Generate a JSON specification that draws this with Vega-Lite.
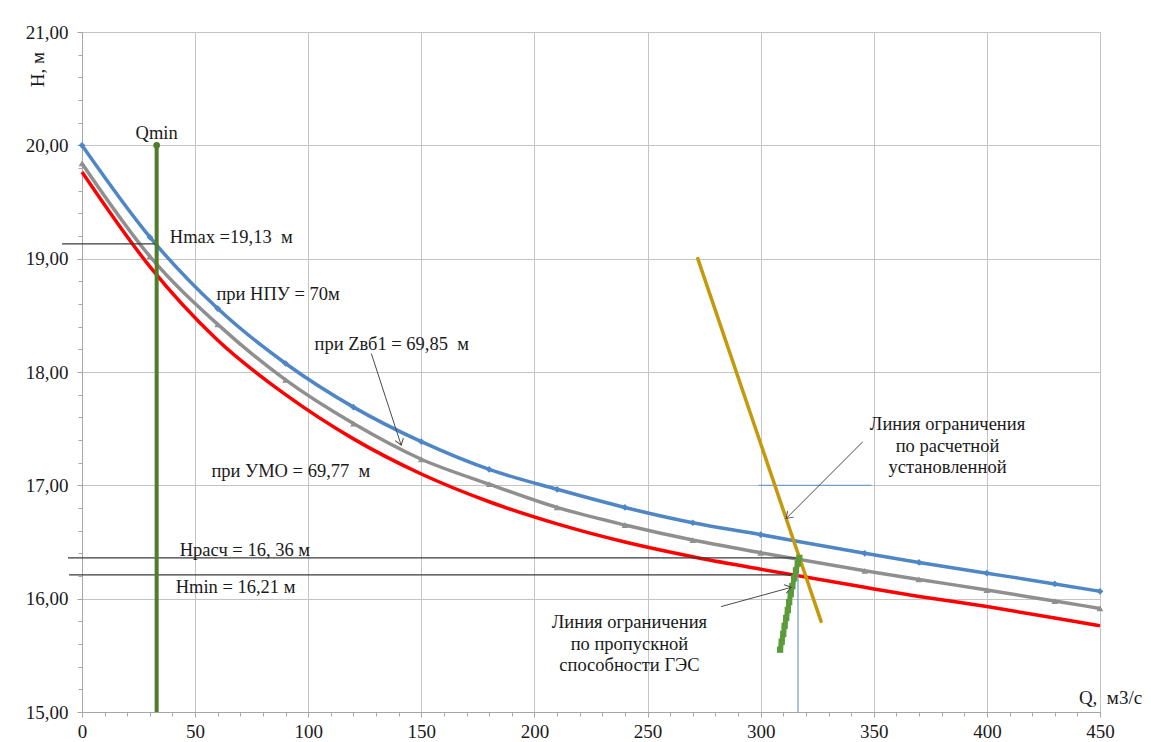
{
  "$schema": "https://vega.github.io/schema/vega-lite/v6.json",
  "width": 1018,
  "height": 680,
  "autosize": {"type": "none"},
  "padding": {"left": 82, "top": 32, "right": 51, "bottom": 30},
  "background": "white",
  "config": {
    "view": {"stroke": null},
    "font": "'Liberation Serif', 'Times New Roman', 'DejaVu Serif', serif",
    "text": {"font": "'Liberation Serif', 'Times New Roman', 'DejaVu Serif', serif", "fontSize": 18.5, "color": "#1a1a1a"}
  },
  "datasets": {
    "curves": [
      {"s": "НПУ", "Q": 0, "H": 20.0}, {"s": "НПУ", "Q": 30, "H": 19.19}, {"s": "НПУ", "Q": 60, "H": 18.56},
      {"s": "НПУ", "Q": 90, "H": 18.075}, {"s": "НПУ", "Q": 120, "H": 17.69}, {"s": "НПУ", "Q": 150, "H": 17.385},
      {"s": "НПУ", "Q": 180, "H": 17.14}, {"s": "НПУ", "Q": 210, "H": 16.965}, {"s": "НПУ", "Q": 240, "H": 16.805},
      {"s": "НПУ", "Q": 270, "H": 16.67}, {"s": "НПУ", "Q": 300, "H": 16.565}, {"s": "НПУ", "Q": 346, "H": 16.4},
      {"s": "НПУ", "Q": 370, "H": 16.32}, {"s": "НПУ", "Q": 400, "H": 16.225}, {"s": "НПУ", "Q": 430, "H": 16.13},
      {"s": "НПУ", "Q": 450, "H": 16.065},
      {"s": "Zвб1", "Q": 0, "H": 19.84}, {"s": "Zвб1", "Q": 30, "H": 19.02}, {"s": "Zвб1", "Q": 60, "H": 18.42},
      {"s": "Zвб1", "Q": 90, "H": 17.93}, {"s": "Zвб1", "Q": 120, "H": 17.545}, {"s": "Zвб1", "Q": 150, "H": 17.23},
      {"s": "Zвб1", "Q": 180, "H": 17.01}, {"s": "Zвб1", "Q": 210, "H": 16.805}, {"s": "Zвб1", "Q": 240, "H": 16.65},
      {"s": "Zвб1", "Q": 270, "H": 16.517}, {"s": "Zвб1", "Q": 300, "H": 16.405}, {"s": "Zвб1", "Q": 346, "H": 16.246},
      {"s": "Zвб1", "Q": 370, "H": 16.17}, {"s": "Zвб1", "Q": 400, "H": 16.076}, {"s": "Zвб1", "Q": 430, "H": 15.979},
      {"s": "Zвб1", "Q": 450, "H": 15.914},
      {"s": "УМО", "Q": 0, "H": 19.765}, {"s": "УМО", "Q": 30, "H": 18.93}, {"s": "УМО", "Q": 60, "H": 18.28},
      {"s": "УМО", "Q": 90, "H": 17.8}, {"s": "УМО", "Q": 120, "H": 17.41}, {"s": "УМО", "Q": 150, "H": 17.1},
      {"s": "УМО", "Q": 180, "H": 16.855}, {"s": "УМО", "Q": 210, "H": 16.66}, {"s": "УМО", "Q": 240, "H": 16.5},
      {"s": "УМО", "Q": 270, "H": 16.37}, {"s": "УМО", "Q": 300, "H": 16.26}, {"s": "УМО", "Q": 346, "H": 16.1},
      {"s": "УМО", "Q": 370, "H": 16.02}, {"s": "УМО", "Q": 400, "H": 15.93}, {"s": "УМО", "Q": 430, "H": 15.83},
      {"s": "УМО", "Q": 450, "H": 15.76}
    ],
    "refs": [
      {"id": "hmax", "Q": -8.8, "Q2": 33, "H": 19.13, "H2": 19.13},
      {"id": "hrasch", "Q": -6.2, "Q2": 317, "H": 16.36, "H2": 16.36},
      {"id": "hmin", "Q": -5.7, "Q2": 316, "H": 16.21, "H2": 16.21},
      {"id": "vblue", "Q": 316.5, "Q2": 316.5, "H": 15.0, "H2": 16.36},
      {"id": "hblue", "Q": 299, "Q2": 349, "H": 17.0, "H2": 17.0}
    ],
    "qmin": [{"Q": 33, "H": 15.0, "H2": 20.0}],
    "qminTop": [{"Q": 33, "H": 20.0}],
    "gold": [
      {"Q": 272.2, "H": 19.0}, {"Q": 317.0, "H": 16.37}, {"Q": 326.7, "H": 15.8}
    ],
    "ges": [
      {"Q": 308.6, "H": 15.55}, {"Q": 309.3, "H": 15.62}, {"Q": 310.0, "H": 15.69}, {"Q": 310.6, "H": 15.76},
      {"Q": 311.3, "H": 15.83}, {"Q": 312.0, "H": 15.9}, {"Q": 312.6, "H": 15.97}, {"Q": 313.3, "H": 16.04},
      {"Q": 314.0, "H": 16.11}, {"Q": 314.8, "H": 16.18}, {"Q": 315.6, "H": 16.25}, {"Q": 316.4, "H": 16.31},
      {"Q": 317.1, "H": 16.36}
    ],
    "arrows": [
      {"id": "a1", "Q": 127.9, "H": 18.163, "Q2": 141.1, "H2": 17.354},
      {"id": "a2", "Q": 345.1, "H": 17.384, "Q2": 311.3, "H2": 16.708},
      {"id": "a3", "Q": 282.5, "H": 15.93, "Q2": 313.5, "H2": 16.1}
    ],
    "labelsLeft": [
      {"Q": 38.8, "H": 19.19, "t": "Hmax =19,13 \u00a0м"},
      {"Q": 59.4, "H": 18.69, "t": "при НПУ = 70м"},
      {"Q": 102.8, "H": 18.25, "t": "при Zвб1 = 69,85 \u00a0м"},
      {"Q": 57.2, "H": 17.13, "t": "при УМО = 69,77 \u00a0м"},
      {"Q": 43.2, "H": 16.43, "t": "Hрасч = 16, 36 м"},
      {"Q": 41.4, "H": 16.1, "t": "Hmin = 16,21 м"}
    ],
    "labelsCenter": [
      {"Q": 33, "H": 20.11, "t": "Qmin"},
      {"Q": 242, "H": 15.79, "t": "Линия ограничения\nпо пропускной\nспособности ГЭС"},
      {"Q": 382.6, "H": 17.54, "t": "Линия ограничения\nпо расчетной\nустановленной"}
    ]
  },
  "layer": [
    {
      "layer": [
        {
          "data": {"name": "curves"},
          "mark": {"type": "line", "interpolate": "monotone", "strokeWidth": 3.5},
          "encoding": {
            "x": {
              "field": "Q", "type": "quantitative",
              "scale": {"domain": [0, 450], "nice": false, "zero": false},
              "axis": {
                "orient": "bottom",
                "values": [0, 50, 100, 150, 200, 250, 300, 350, 400, 450],
                "title": "Q, \u00a0м3/с",
                "titleFont": "'Liberation Serif', 'Times New Roman', serif", "titleFontSize": 19, "titleFontWeight": "normal", "titleColor": "#1a1a1a",
                "titleX": 1028, "titleY": -15, "titleAlign": "center", "titleBaseline": "middle", "titleAnchor": null,
                "labelFont": "'Liberation Serif', 'Times New Roman', serif", "labelFontSize": 19, "labelColor": "#1a1a1a", "labelPadding": 5,
                "labelFlush": false, "labelOverlap": false,
                "tickSize": 5, "tickColor": "#a6a6a6", "domainColor": "#a6a6a6",
                "grid": true, "gridColor": "#c4c4c4", "gridWidth": 1
              }
            },
            "y": {
              "field": "H", "type": "quantitative",
              "scale": {"domain": [15, 21], "nice": false, "zero": false},
              "axis": {
                "orient": "left",
                "values": [15, 16, 17, 18, 19, 20, 21],
                "labelExpr": "replace(format(datum.value, '.2f'), '.', ',')",
                "title": "Н, м",
                "titleFont": "'Liberation Serif', 'Times New Roman', serif", "titleFontSize": 19, "titleFontWeight": "normal", "titleColor": "#1a1a1a",
                "titleAngle": 270, "titleX": -45, "titleY": 37, "titleAlign": "center", "titleBaseline": "middle", "titleAnchor": null,
                "labelFont": "'Liberation Serif', 'Times New Roman', serif", "labelFontSize": 19, "labelColor": "#1a1a1a", "labelPadding": 9,
                "labelFlush": false, "labelOverlap": false,
                "tickSize": 5, "tickColor": "#a6a6a6", "domainColor": "#a6a6a6",
                "grid": true, "gridColor": "#c4c4c4", "gridWidth": 1
              }
            },
            "color": {
              "field": "s", "type": "nominal",
              "scale": {"domain": ["УМО", "Zвб1", "НПУ"], "range": ["#ff0000", "#8f8f8f", "#4f86c6"]},
              "legend": null
            },
            "order": {"field": "Q", "type": "quantitative"}
          }
        },
        {
          "data": {"name": "curves"},
          "transform": [{"filter": "datum.s !== 'УМО'"}],
          "mark": {"type": "point", "filled": true, "size": 45, "opacity": 1},
          "encoding": {
            "x": {"field": "Q", "type": "quantitative"},
            "y": {"field": "H", "type": "quantitative"},
            "color": {"field": "s", "type": "nominal", "legend": null},
            "shape": {
              "field": "s", "type": "nominal",
              "scale": {"domain": ["Zвб1", "НПУ"], "range": ["triangle-up", "diamond"]},
              "legend": null
            }
          }
        },
        {
          "data": {"name": "refs"},
          "transform": [{"filter": "datum.id === 'hmax' || datum.id === 'hrasch' || datum.id === 'hmin'"}],
          "mark": {"type": "rule", "color": "#3a3a3a", "strokeWidth": 1.2},
          "encoding": {
            "x": {"field": "Q", "type": "quantitative"},
            "x2": {"field": "Q2"},
            "y": {"field": "H", "type": "quantitative"},
            "y2": {"field": "H2"}
          }
        },
        {
          "data": {"name": "refs"},
          "transform": [{"filter": "datum.id === 'vblue' || datum.id === 'hblue'"}],
          "mark": {"type": "rule", "color": "#6f9bcf", "strokeWidth": 1.2},
          "encoding": {
            "x": {"field": "Q", "type": "quantitative"},
            "x2": {"field": "Q2"},
            "y": {"field": "H", "type": "quantitative"},
            "y2": {"field": "H2"}
          }
        },
        {
          "data": {"name": "qmin"},
          "mark": {"type": "rule", "color": "#4e7d2c", "strokeWidth": 4},
          "encoding": {
            "x": {"field": "Q", "type": "quantitative"},
            "y": {"field": "H", "type": "quantitative"},
            "y2": {"field": "H2"}
          }
        },
        {
          "data": {"name": "qminTop"},
          "mark": {"type": "point", "filled": true, "size": 45, "color": "#4e7d2c", "opacity": 1},
          "encoding": {
            "x": {"field": "Q", "type": "quantitative"},
            "y": {"field": "H", "type": "quantitative"}
          }
        },
        {
          "data": {"name": "gold"},
          "mark": {"type": "line", "color": "#c49a0a", "strokeWidth": 3.5, "strokeCap": "round"},
          "encoding": {
            "x": {"field": "Q", "type": "quantitative"},
            "y": {"field": "H", "type": "quantitative"},
            "order": {"field": "H", "type": "quantitative"}
          }
        },
        {
          "data": {"name": "ges"},
          "mark": {"type": "line", "color": "#5b9b3a", "strokeWidth": 5, "strokeCap": "round"},
          "encoding": {
            "x": {"field": "Q", "type": "quantitative"},
            "y": {"field": "H", "type": "quantitative"},
            "order": {"field": "H", "type": "quantitative"}
          }
        },
        {
          "data": {"name": "ges"},
          "mark": {"type": "point", "filled": true, "size": 40, "shape": "square", "color": "#5b9b3a", "opacity": 1},
          "encoding": {
            "x": {"field": "Q", "type": "quantitative"},
            "y": {"field": "H", "type": "quantitative"}
          }
        },
        {
          "data": {"name": "arrows"},
          "mark": {"type": "rule", "color": "#4a4a4a", "strokeWidth": 1},
          "encoding": {
            "x": {"field": "Q", "type": "quantitative"},
            "x2": {"field": "Q2"},
            "y": {"field": "H", "type": "quantitative"},
            "y2": {"field": "H2"}
          }
        },
        {
          "data": {"name": "arrows"},
          "transform": [{"filter": "datum.id === 'a1'"}],
          "mark": {"type": "point", "shape": "M -1 -0.7 L 0 0 L -1 0.7", "filled": false, "stroke": "#4a4a4a", "strokeWidth": 1, "size": 150, "angle": 72, "opacity": 1},
          "encoding": {
            "x": {"field": "Q2", "type": "quantitative"},
            "y": {"field": "H2", "type": "quantitative"}
          }
        },
        {
          "data": {"name": "arrows"},
          "transform": [{"filter": "datum.id === 'a2'"}],
          "mark": {"type": "point", "shape": "M -1 -0.7 L 0 0 L -1 0.7", "filled": false, "stroke": "#4a4a4a", "strokeWidth": 1, "size": 150, "angle": 135, "opacity": 1},
          "encoding": {
            "x": {"field": "Q2", "type": "quantitative"},
            "y": {"field": "H2", "type": "quantitative"}
          }
        },
        {
          "data": {"name": "arrows"},
          "transform": [{"filter": "datum.id === 'a3'"}],
          "mark": {"type": "point", "shape": "M -1 -0.7 L 0 0 L -1 0.7", "filled": false, "stroke": "#4a4a4a", "strokeWidth": 1, "size": 150, "angle": 345, "opacity": 1},
          "encoding": {
            "x": {"field": "Q2", "type": "quantitative"},
            "y": {"field": "H2", "type": "quantitative"}
          }
        },
        {
          "data": {"name": "labelsLeft"},
          "mark": {"type": "text", "align": "left", "baseline": "middle", "fontSize": 18.5},
          "encoding": {
            "x": {"field": "Q", "type": "quantitative"},
            "y": {"field": "H", "type": "quantitative"},
            "text": {"field": "t"}
          }
        },
        {
          "data": {"name": "labelsCenter"},
          "mark": {"type": "text", "align": "center", "baseline": "middle", "fontSize": 18.5, "lineBreak": "\n", "lineHeight": 21.5},
          "encoding": {
            "x": {"field": "Q", "type": "quantitative"},
            "y": {"field": "H", "type": "quantitative"},
            "text": {"field": "t"}
          }
        }
      ]
    },
    {
      "data": {"name": "qminTop"},
      "mark": {"type": "point", "opacity": 0},
      "encoding": {
        "x": {
          "field": "Q", "type": "quantitative",
          "scale": {"domain": [0, 450], "nice": false, "zero": false},
          "axis": {
            "orient": "bottom",
            "values": [0, 10, 20, 30, 40, 50, 60, 70, 80, 90, 100, 110, 120, 130, 140, 150, 160, 170, 180, 190, 200, 210, 220, 230, 240, 250, 260, 270, 280, 290, 300, 310, 320, 330, 340, 350, 360, 370, 380, 390, 400, 410, 420, 430, 440, 450],
            "labels": false, "domain": false, "grid": false, "title": null,
            "tickSize": 4, "tickColor": "#a6a6a6"
          }
        },
        "y": {
          "field": "H", "type": "quantitative",
          "scale": {"domain": [15, 21], "nice": false, "zero": false},
          "axis": {
            "orient": "left",
            "values": [15, 15.2, 15.4, 15.6, 15.8, 16, 16.2, 16.4, 16.6, 16.8, 17, 17.2, 17.4, 17.6, 17.8, 18, 18.2, 18.4, 18.6, 18.8, 19, 19.2, 19.4, 19.6, 19.8, 20, 20.2, 20.4, 20.6, 20.8, 21],
            "labels": false, "domain": false, "grid": false, "title": null,
            "tickSize": 4, "tickColor": "#a6a6a6"
          }
        }
      }
    }
  ],
  "resolve": {"axis": {"x": "independent", "y": "independent"}}
}
